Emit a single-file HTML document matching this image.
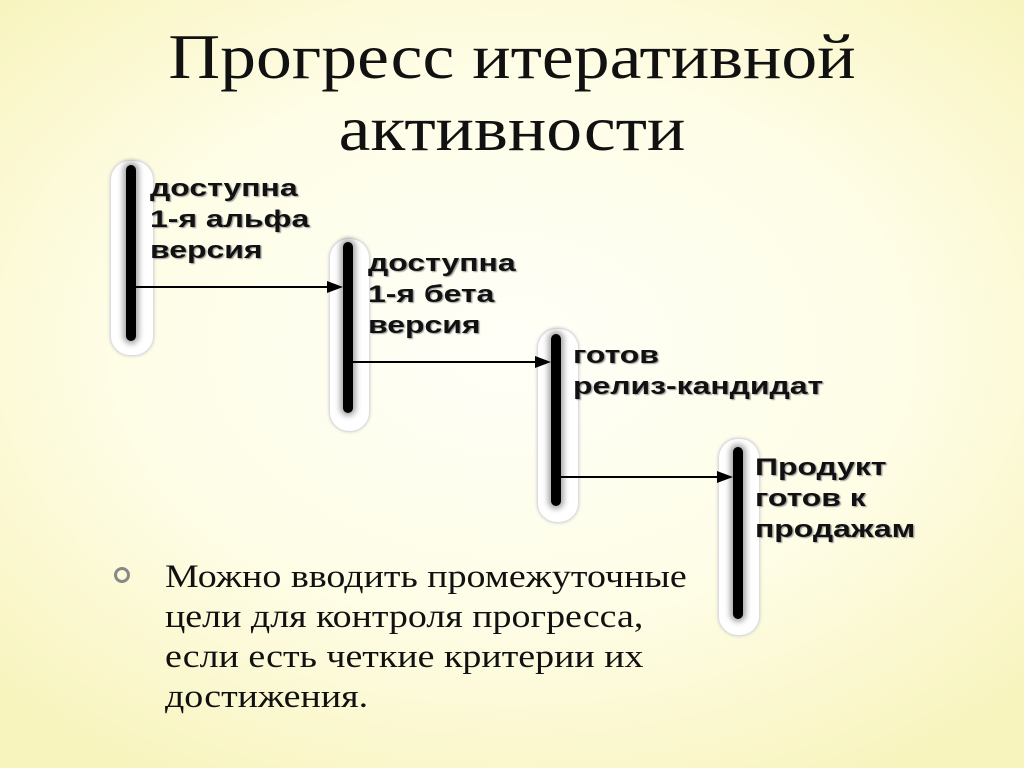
<!DOCTYPE html>
<html><head><meta charset="utf-8"><style>
body{margin:0;width:1024px;height:768px;overflow:hidden;position:relative;
background:radial-gradient(ellipse 70% 65% at 50% 45%,#fffff8 0%,#fefde6 55%,#f8f4be 100%);
font-family:"Liberation Serif",serif;}
.t{position:absolute;left:0;width:1024px;text-align:center;font-size:64px;color:#111;line-height:70px;transform:scaleX(1.12);transform-origin:512px 0}
.g{position:absolute;background:#fff;border:1px solid #ddd;border-radius:20px;box-shadow:0 0 3px #ccc}
.b{position:absolute;width:10px;background:#000;border-radius:5px;box-shadow:0 0 6px 3px rgba(0,0,0,.35)}
.l{position:absolute;font-family:"Liberation Sans",sans-serif;font-weight:bold;font-size:24px;line-height:31px;color:#111;text-shadow:1px 1px 1px #999;transform:scaleX(1.33);transform-origin:0 0;white-space:nowrap}
.bul{position:absolute;left:165px;top:557px;font-size:33px;line-height:40px;color:#111;transform:scaleX(1.15);transform-origin:0 0;white-space:nowrap}
</style></head><body>
<div class="t" style="top:22px">Прогресс итеративной</div>
<div class="t" style="top:94px">активности</div>

<div class="g" style="left:110px;top:160px;width:42px;height:194px"></div>
<div class="g" style="left:329px;top:238px;width:39px;height:192px"></div>
<div class="g" style="left:537px;top:328px;width:40px;height:193px"></div>
<div class="g" style="left:718px;top:438px;width:40px;height:196px"></div>

<div class="b" style="left:126px;top:165px;height:176px"></div>
<div class="b" style="left:343px;top:242px;height:171px"></div>
<div class="b" style="left:551px;top:334px;height:172px"></div>
<div class="b" style="left:733px;top:447px;height:172px"></div>

<svg width="1024" height="768" style="position:absolute;left:0;top:0">
<g stroke="#000" stroke-width="2">
<line x1="134" y1="287" x2="330" y2="287"/>
<line x1="352" y1="362" x2="538" y2="362"/>
<line x1="560" y1="477" x2="720" y2="477"/>
</g>
<g fill="#000">
<polygon points="343,287 327,281 327,293"/>
<polygon points="551,362 535,356 535,368"/>
<polygon points="733,477 717,471 717,483"/>
</g>
</svg>

<div class="l" style="left:150px;top:173px">доступна<br>1-я альфа<br>версия</div>
<div class="l" style="left:368px;top:248px">доступна<br>1-я бета<br>версия</div>
<div class="l" style="left:573px;top:340px">готов<br>релиз-кандидат</div>
<div class="l" style="left:755px;top:452px">Продукт<br>готов к<br>продажам</div>

<svg width="20" height="20" style="position:absolute;left:112px;top:565px"><circle cx="10" cy="10" r="6.5" fill="none" stroke="#888" stroke-width="3"/></svg>
<div class="bul">Можно вводить промежуточные<br>цели для контроля прогресса,<br>если есть четкие критерии их<br>достижения.</div>
</body></html>
